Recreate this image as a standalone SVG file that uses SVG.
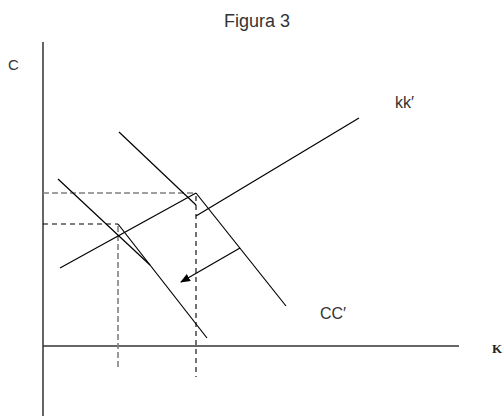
<svg xmlns="http://www.w3.org/2000/svg" width="504" height="416" viewBox="0 0 504 416">
<style>
.t{font-family:"Liberation Sans",Arial,sans-serif;fill:#333}
.l{stroke:#000;stroke-width:1.2;fill:none}
.ax{stroke:#333;stroke-width:1.5;fill:none}
.dg{stroke:#808080;stroke-width:1.6;stroke-dasharray:6,3;fill:none}
.db{stroke:#000;stroke-width:1.1;stroke-dasharray:5,4;fill:none}
</style>
<defs>
<marker id="ah" markerWidth="10" markerHeight="8" refX="9" refY="4" orient="auto" markerUnits="userSpaceOnUse">
<path d="M0,0 L10,4 L0,8 Z" fill="#000"/>
</marker>
</defs>
<rect width="504" height="416" fill="#fff"/>
<text class="t" x="257" y="27" font-size="18" text-anchor="middle">Figura 3</text>
<g id="axes">
<line class="ax" x1="43" y1="42" x2="43" y2="416"/>
<line class="ax" x1="43" y1="346" x2="459" y2="346"/>
</g>
<g id="label-c"><text class="t" x="8" y="70" font-size="15">C</text></g>
<g id="label-kk"><text class="t" x="395" y="108" font-size="16">kk′</text></g>
<g id="label-cc"><text class="t" x="320" y="319" font-size="16">CC′</text></g>
<g id="label-k"><text x="492" y="353" font-size="13" font-weight="bold" font-family="Liberation Serif,serif" fill="#222">K</text></g>
<g id="connectors">
<line class="dg" x1="43" y1="193" x2="196" y2="193"/>
<line class="db" x1="43" y1="224" x2="118" y2="224"/>
<line class="dg" x1="118" y1="226" x2="118" y2="368"/>
<line class="db" x1="196" y1="196" x2="196" y2="377"/>
<line class="l" x1="60" y1="268" x2="196" y2="193"/>
<line class="l" x1="196" y1="216" x2="359" y2="118"/>
<line class="l" x1="119" y1="132" x2="196" y2="205"/>
<line class="l" x1="196" y1="193" x2="286" y2="306"/>
<line class="l" x1="58" y1="179" x2="150" y2="265"/>
<line class="l" x1="118" y1="224" x2="207" y2="338"/>
<line class="l" x1="240" y1="248" x2="181" y2="282" marker-end="url(#ah)"/>
</g>
</svg>
